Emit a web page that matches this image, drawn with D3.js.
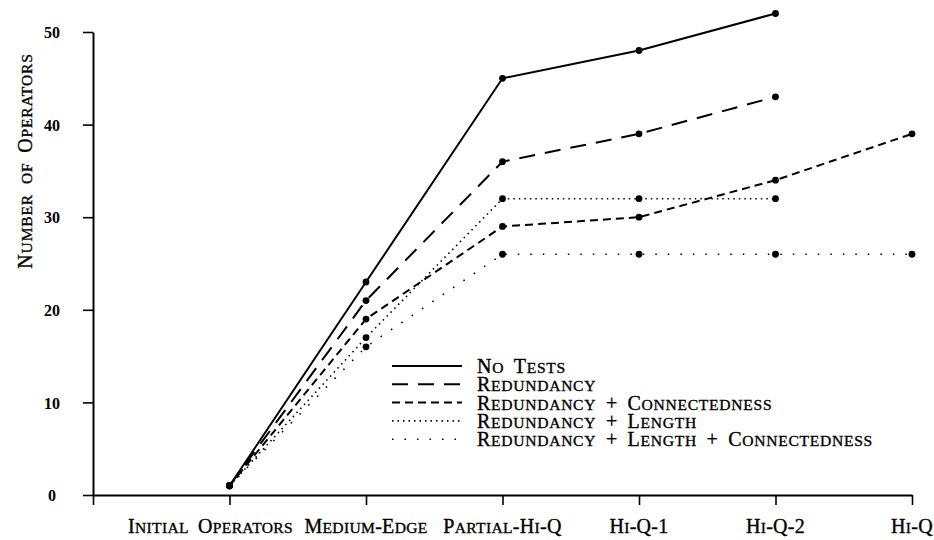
<!DOCTYPE html>
<html>
<head>
<meta charset="utf-8">
<script src="https://cdn.jsdelivr.net/npm/d3@7"></script>
<style>
  body { margin: 0; background: #fff; }
  svg { display: block; }
  text { font-family: "Liberation Serif", "Times New Roman", serif; fill: #000; }
  .sc { stroke: #000; stroke-width: 0.35px; }
</style>
</head>
<body>
<div id="chart"></div>
<script>
// Stages along the x axis
const stages = ['Initial Operators', 'Medium-Edge', 'Partial-Hi-Q', 'Hi-Q-1', 'Hi-Q-2', 'Hi-Q'];

// Number of operators per stage (null = not run)
const noTests = [1, 23, 45, 48, 52, null];
const redundancy = [1, 21, 36, 39, 43, null];
const redundancyConn = [1, 19, 29, 30, 34, 39];
const redundancyLength = [1, 17, 32, 32, 32, null];
const redundancyLengthConn = [1, 16, 26, 26, 26, 26];

const seriesNames = [
  'No Tests',
  'Redundancy',
  'Redundancy + Connectedness',
  'Redundancy + Length',
  'Redundancy + Length + Connectedness'
];

const yTicks = [0, 10, 20, 30, 40, 50];
const yLabel = 'Number of Operators';

// Layout
let
  w = 934,
  h = 540,
  x0 = 93,     // y axis position
  x1 = 912,    // end of x axis
  yTop = 32,
  yBot = 495,
  fs = 20,     // main text size
  scRatio = 0.78, // small caps size ratio
  dotR = 3.4;

const series = [noTests, redundancy, redundancyConn, redundancyLength, redundancyLengthConn];
const dashes = ['none', '16,10', '8,5', '1.5,4', '1.5,11'];
const widths = [2, 2, 2, 1.6, 1.6];

const x = d3.scaleLinear().domain([0, stages.length]).range([x0, x1]);
const y = d3.scaleLinear().domain([0, 50]).range([yBot, yTop]);

const svg = d3.select('#chart').append('svg')
  .attr('width', w)
  .attr('height', h);

// Write text as small caps: capitals full size, lower case letters as smaller capitals
function smallCaps(sel, str, size, ls) {
  sel.attr('font-size', size).attr('class', 'sc');
  str.split(/(\s+)/).forEach(part => {
    if (/^\s+$/.test(part)) { sel.append('tspan').attr('font-size', size).text('\u00a0'); return; }
    part.split('').forEach(ch => {
      const low = ch !== ch.toUpperCase();
      sel.append('tspan')
        .attr('font-size', low ? size * scRatio : size)
        .text(ch.toUpperCase());
    });
  });
  sel.attr('letter-spacing', ls).attr('word-spacing', 4);
}

// X axis
const xAxis = d3.axisBottom(x)
  .tickValues(d3.range(0, stages.length + 1))
  .tickSize(10)
  .tickSizeOuter(0)
  .tickFormat('');

svg.append('g')
  .attr('transform', 'translate(0,' + yBot + ')')
  .call(xAxis)
  .call(g => g.select('.domain').attr('stroke-width', 2))
  .call(g => g.selectAll('.tick line').attr('stroke-width', 1.6));

// Stage labels under the ticks
stages.forEach((s, i) => {
  const t = svg.append('text')
    .attr('x', x(i + 1) + (i === 0 ? -19 : 0))
    .attr('y', yBot + 38)
    .attr('text-anchor', 'middle');
  smallCaps(t, s, fs, 0.3);
});

// Y axis
const yAxis = d3.axisLeft(y)
  .tickValues(yTicks)
  .tickSize(10)
  .tickSizeOuter(0);

svg.append('g')
  .attr('transform', 'translate(' + x0 + ',0)')
  .call(yAxis)
  .call(g => g.select('.domain').attr('stroke-width', 2))
  .call(g => g.selectAll('.tick line').attr('stroke-width', 1.6))
  .call(g => g.selectAll('.tick text')
    .attr('x', -41)
    .attr('dy', '0.36em')
    .attr('text-anchor', 'middle')
    .attr('font-size', 16)
    .attr('font-weight', 'bold')
    .attr('font-family', '"Liberation Serif", serif'));

// Y axis title
const yt = svg.append('text')
  .attr('text-anchor', 'middle')
  .attr('transform', 'translate(32,161) rotate(-90)');
smallCaps(yt, yLabel, fs, 0.8);

// Lines
const line = d3.line()
  .defined(d => d != null)
  .x((d, i) => x(i + 1))
  .y(d => y(d));

series.forEach((vals, k) => {
  svg.append('path')
    .datum(vals)
    .attr('fill', 'none')
    .attr('stroke', '#000')
    .attr('stroke-width', widths[k])
    .attr('stroke-dasharray', dashes[k])
    .attr('d', line);

  svg.selectAll(null)
    .data(vals.map((v, i) => ({v, i})).filter(d => d.v != null))
    .enter()
    .append('circle')
    .attr('cx', d => x(d.i + 1))
    .attr('cy', d => y(d.v))
    .attr('r', dotR)
    .attr('fill', '#000');
});

// Legend
const legend = svg.append('g').attr('transform', 'translate(392,366)');
seriesNames.forEach((name, k) => {
  const row = legend.append('g').attr('transform', 'translate(0,' + (k * 18.3) + ')');
  row.append('line')
    .attr('x1', 0).attr('x2', 70)
    .attr('stroke', '#000')
    .attr('stroke-width', widths[k])
    .attr('stroke-dasharray', dashes[k]);
  const t = row.append('text').attr('x', 85).attr('y', 7);
  smallCaps(t, name, fs, 0.7);
});
</script>
</body>
</html>
